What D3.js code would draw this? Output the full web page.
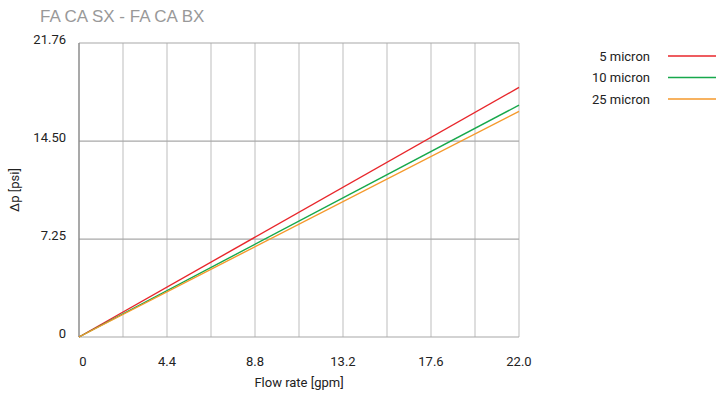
<!DOCTYPE html>
<html><head><meta charset="utf-8">
<script src="https://cdn.jsdelivr.net/npm/d3@7"></script>
<style>body{margin:0;background:#fff}svg{display:block;font-family:Roboto,"Liberation Sans",sans-serif}</style>
</head><body><svg id="c" width="716" height="394"></svg>
<script>
const title = "FA CA SX - FA CA BX";
const xTicks = [0, 4.4, 8.8, 13.2, 17.6, 22.0];
const xGrid = [0, 2.2, 4.4, 6.6, 8.8, 11.0, 13.2, 15.4, 17.6, 19.8, 22.0];
const yTicks = [0, 7.25, 14.50, 21.76];
const seriesNames = ["5 micron", "10 micron", "25 micron"];
const seriesColors = ["#e8262b", "#17a84b", "#f5992b"];
const flow = [0, 22.0];
const dp5 = [0, 18.47];
const dp10 = [0, 17.16];
const dp25 = [0, 16.70];
const seriesValues = [dp5, dp10, dp25];

const svg = d3.select("#c");
const x = d3.scaleLinear().domain([0, 22]).range([79, 519]);
const y = d3.scaleLinear().domain([0, 21.76]).range([337, 43]);

svg.append("text").attr("x", 40).attr("y", 22).attr("fill", "#999")
  .attr("font-family", "'Liberation Sans', Arial, sans-serif")
  .attr("font-size", 17).text(title);

// vertical grid
svg.append("g").selectAll("line").data(xGrid.slice(1)).join("line")
  .attr("x1", d => x(d)).attr("x2", d => x(d)).attr("y1", y(21.76)).attr("y2", y(0))
  .attr("stroke", "#c8c8c8").attr("stroke-width", 1.2);
// horizontal grid
svg.append("g").selectAll("line").data(yTicks).join("line")
  .attr("x1", x(0)).attr("x2", x(22)).attr("y1", d => y(d)).attr("y2", d => y(d))
  .attr("stroke", "#a8a8a8").attr("stroke-width", 1.2);
// left axis line
svg.append("line").attr("x1", x(0)).attr("x2", x(0)).attr("y1", y(21.76)).attr("y2", y(0))
  .attr("stroke", "#8c8c8c").attr("stroke-width", 1.5);

// y labels
const fmtY = d => d === 0 ? "0" : d.toFixed(2);
svg.append("g").selectAll("text").data(yTicks).join("text")
  .attr("x", 66).attr("y", d => y(d) + 1).attr("text-anchor", "end")
  .attr("font-size", 13).attr("fill", "#222").text(fmtY);
// x labels
const fmtX = d => d === 0 ? "0" : d.toFixed(1);
svg.append("g").selectAll("text").data(xTicks).join("text")
  .attr("x", d => x(d) + (d === 0 ? 4 : 0)).attr("y", 366).attr("text-anchor", "middle")
  .attr("font-size", 13).attr("fill", "#222").text(fmtX);

svg.append("text").attr("x", 299).attr("y", 387).attr("text-anchor", "middle")
  .attr("font-size", 13).attr("fill", "#222").text("Flow rate [gpm]");
svg.append("text").attr("transform", "translate(19,190) rotate(-90)").attr("text-anchor", "middle")
  .attr("font-size", 13).attr("fill", "#222").text("Δp [psi]");

// lines
const line = d3.line().x((d, i) => x(flow[i])).y(d => y(d));
seriesValues.forEach((vals, k) => {
  svg.append("path").datum(vals).attr("d", line).attr("fill", "none")
    .attr("stroke", seriesColors[k]).attr("stroke-width", 1.4);
});

// legend
const ly = [56, 77.5, 99];
seriesNames.forEach((n, k) => {
  svg.append("text").attr("x", 650).attr("y", ly[k] + 4.5).attr("text-anchor", "end")
    .attr("font-size", 13).attr("fill", "#222").text(n);
  svg.append("line").attr("x1", 668).attr("x2", 716).attr("y1", ly[k]).attr("y2", ly[k])
    .attr("stroke", seriesColors[k]).attr("stroke-width", 1.4);
});
</script></body></html>
